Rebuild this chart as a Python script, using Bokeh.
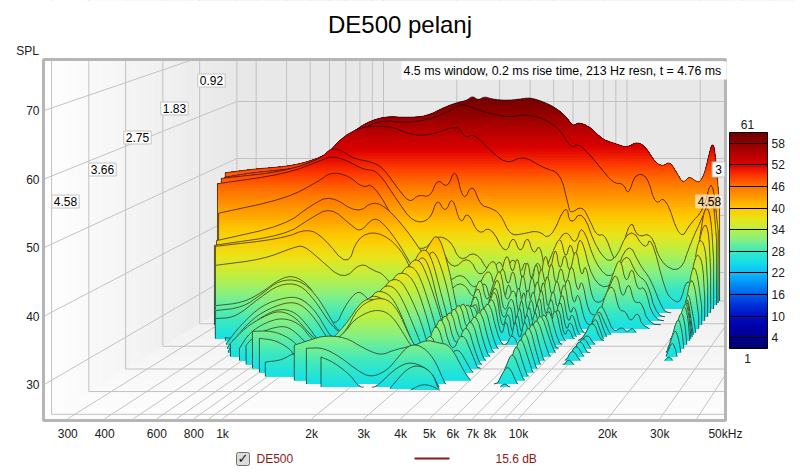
import math
import numpy as np
from bokeh.plotting import figure
from bokeh.models import (Range1d, FixedTicker, Label, ColorBar, LinearColorMapper, ColumnDataSource)
from bokeh.embed import file_html
from bokeh.resources import INLINE

TITLE = "DE500 pelanj"
INFO = "4.5 ms window, 0.2 ms rise time,  213 Hz resn, t = 4.76 ms"
X_TICKS = [300, 400, 600, 800, 1000, 2000, 3000, 4000, 5000, 6000, 7000, 8000, 10000, 20000, 30000, 50000]
X_LABELS = ["300", "400", "600", "800", "1k", "2k", "3k", "4k", "5k", "6k", "7k", "8k", "10k", "20k", "30k", "50kHz"]
Y_TICKS = [30, 40, 50, 60, 70]
GRID_FREQS = [300, 400, 500, 600, 700, 800, 900, 1000, 2000, 3000, 4000, 5000, 6000, 7000, 8000, 9000, 10000,
              20000, 30000, 40000, 50000]
TIME_TICKS = [0.92, 1.83, 2.75, 3.66, 4.58]
BAR_TICKS = [4, 10, 16, 22, 28, 34, 40, 46, 52, 58]
SPL_MIN, SPL_MAX = 1, 61
FLOOR_DB = 25
LAST_T = 4.76

# time (ms), then (frequency kHz, SPL dB) pairs read from each slice
S_000 = (0.0, [(.224,47.5),(.3,48.2),(.4,48.6),(.5,49.5),(.6,51),(.8,55.8),(1,57.4),(1.25,57.2),(1.5,57.4),(1.8,59.1),(2,59.8),(2.2,60.2),(2.32,61),(2.45,60.2),(2.6,60.9),(2.8,60.4),(3.2,60.2),(3.6,60.4),(4,60.7),(4.5,60),(5,59.1),(5.6,57.5),(6,55.6),(6.3,56.4),(7,55.6),(7.5,54.4),(8,53.3),(9,52.6),(10,51.9),(11,53),(12,51.9),(13,49.4),(14,48.6),(15,49.5),(16,47.5),(17,45.6),(18,46.9),(19,46.1),(20,45.8),(21,47.9),(22,51.8),(22.5,52.6),(23,51.4),(24,41.8)])
S_008 = (0.08, [(.23,47),(.3,47.8),(.4,48.3),(.5,49),(.6,50.3),(.8,55),(1,57),(1.25,56.5),(1.5,56.9),(1.8,58),(1.98,59),(2.16,59.9),(2.49,58.7),(3.3,57.4),(4.1,58.1),(5.3,56),(6,52),(6.44,52.9),(7.2,50.8),(7.9,48.7),(8.96,45.9),(9.84,45.9),(10.3,43.8),(11,47.6),(12.3,47.3),(13.3,42),(14.6,43.8),(16.8,35.9),(18.5,38.9),(20.9,41.2),(22.7,47.3),(24,37.7)])
S_016 = (0.16, [(.23,46.5),(.42,47.8),(.58,50),(.77,55.7),(1.09,56.4),(1.39,54.5),(1.68,54.7),(2.11,56.4),(2.27,54),(2.45,54.9),(2.95,51.4),(3.37,49.6),(3.91,51),(4.71,48.9),(5.54,48),(5.97,42.3),(6.08,40.9),(6.8,42.3),(7.3,39.7),(7.8,37),(8.4,37.4),(9.1,33.2),(9.55,32.2),(10.7,40.2),(11.4,36.7),(13,37.6),(14.2,32.2),(17.1,30.6),(18.8,35.8),(21.2,40.6),(23.1,44.9),(24,36.2)])
S_032 = (0.32, [(.244,47.6),(.44,48.8),(.615,51),(.66,52.4),(.69,52.7),(.74,52.6),(.84,51),(.98,50.5),(1.1,49.5),(1.3,45.1),(1.42,43.4),(1.53,44.8),(1.71,44.3),(1.83,47.6),(2.01,45.8),(2.16,49.6),(2.33,43.4),(2.53,46.8),(2.73,42.9),(2.99,42.5),(3.29,41.5),(3.6,37.7),(4.07,38),(4.68,38.6),(5.24,36.9),(6.08,43.4),(6.3,39.4),(7.06,42.2),(8.1,35.1),(9.4,32.5),(11,39.4),(12.7,35.1),(13.4,37.7),(15.3,28),(16.4,26.5),(17.6,26),(18.6,30),(19.7,29),(21.2,38),(22.2,43),(23.4,41.2),(24,33.4)])
S_048 = (0.48, [(.25,47.2),(.47,48.9),(.65,51.2),(.72,52),(.83,51.2),(.97,49.6),(1.1,49.5),(1.32,44.3),(1.53,40.5),(1.79,40.9),(1.91,44.8),(2.06,42.1),(2.2,45.2),(2.37,40),(2.53,42.6),(2.8,38.3),(3.13,40),(3.6,34.8),(3.85,38.5),(4.13,35),(4.4,38.5),(4.66,34.8),(4.95,37),(5.2,31.4),(5.7,36.5),(6.3,39.4),(6.87,36.5),(7.3,40.5),(8.3,33.1),(9.7,30.5),(11.2,37.4),(12.5,33.1),(13.7,31),(15.4,25.5),(16.3,25),(17.3,25),(18.4,24.5),(19.5,26),(21,34),(22.2,40),(23.5,40),(24,32.2)])
S_064 = (0.64, [(.268,42.7),(.5,45.2),(.68,48.3),(.75,49.7),(.88,49.2),(1.01,47),(1.11,47.8),(1.39,40.6),(1.56,37.2),(1.79,36.4),(1.97,38.9),(2.26,38.1),(2.47,34.3),(2.84,36.4),(3.26,32.1),(3.55,35),(3.74,32),(4,35.5),(4.3,32.1),(4.5,35),(4.7,30.4),(5,35),(5.3,32),(5.77,36),(6.2,39),(6.5,34.6),(6.8,38),(7.1,34.6),(7.45,39.5),(8.3,31.2),(9.8,29.5),(11.3,36.4),(12.5,32.1),(13.8,31),(15,25),(18.5,24),(19.8,25),(21,32),(22,38.5),(23.5,37.2),(24,30.4)])
S_080 = (0.8, [(.279,38.6),(.52,41.2),(.66,44.6),(.79,46.3),(1.01,43.2),(1.17,45.4),(1.36,43.7),(1.64,39.5),(1.88,35.6),(2.15,37.8),(2.4,33.5),(2.78,36.1),(3.1,32),(3.5,36),(3.7,32),(3.95,37),(4.15,32.5),(4.35,36.5),(4.55,31),(4.75,36),(4.95,31),(5.15,35.5),(5.35,31.5),(5.6,37),(5.85,33),(6.15,38),(6.4,33),(6.7,37),(7,32.5),(7.4,38),(7.8,32),(8.1,35),(8.6,28.5),(9.2,28),(9.7,29),(10.4,33),(11.1,36),(11.7,31),(12.4,34.5),(13,30),(13.9,31),(15,25),(19.5,24),(20.5,27),(21.9,36.5),(23.5,35.5),(24,29)])
S_096 = (0.96, [(.29,38.4),(.55,40.1),(.69,42.9),(.83,44.8),(1,41.8),(1.09,40.6),(1.22,43.1),(1.34,42.2),(1.56,38.4),(1.79,33.8),(2.11,35.5),(2.4,32.1),(2.74,33.8),(3.09,30.5),(3.5,35),(3.7,30.5),(3.95,35.5),(4.15,31),(4.35,35),(4.55,29.5),(4.75,34.5),(4.95,29),(5.15,34),(5.35,30),(5.6,35.5),(5.85,31),(6.15,36.5),(6.4,31),(6.7,35.5),(7,31),(7.4,36),(7.8,30),(8.1,33),(8.6,27),(9.2,26.5),(9.7,27.5),(10.4,31.5),(11.1,34),(11.7,29),(12.4,32.5),(13,28.5),(13.9,29),(14.8,25),(20,24),(20.8,26),(21.8,34.5),(22.9,34.5),(24,28)])
S_112 = (1.12, [(.31,38.8),(.57,40.1),(.71,41.8),(.82,40.3),(1.02,35.3),(1.11,40.3),(1.33,41.4),(1.64,38.6),(1.88,33.1),(2.2,34.8),(2.5,31.1),(2.86,33.1),(3.2,29.5),(3.5,33.5),(3.7,29),(3.95,33.5),(4.15,29),(4.35,33.5),(4.55,28),(4.75,33),(4.95,27.5),(5.15,32.5),(5.35,28.5),(5.6,34),(5.85,29.5),(6.15,35),(6.4,29.5),(6.7,34),(7,29.5),(7.4,34.5),(7.8,28.5),(8.1,31.5),(8.6,26),(9.2,25.5),(9.7,26.5),(10.4,31),(11.1,32.5),(11.7,28),(12.4,28),(13,26),(13.9,28),(14.5,25),(20.3,24),(21,26),(22,33),(23,33),(24,27)])
S_128 = (1.28, [(.328,36.2),(.5,37.2),(.66,39.2),(.72,39.5),(.82,37.5),(1.03,33.7),(1.2,36.7),(1.35,35.3),(1.47,34.8),(1.67,31.5),(2,36),(2.2,39.5),(2.39,41.7),(2.61,36.7),(2.8,30.3),(2.98,24.5),(3.2,29),(3.5,35),(3.7,29.5),(3.95,33.5),(4.19,36),(4.4,29.5),(4.75,33),(4.95,27),(5.15,33),(5.35,27.5),(5.6,33),(5.85,28),(6.15,35),(6.4,28),(6.7,33),(7,28),(7.4,34.5),(7.8,27.5),(8.1,30),(8.6,25),(9.3,25),(10.2,30),(10.8,28),(11.5,25),(12.4,26),(13,25),(13.7,26),(14.3,24),(20.5,24),(21.3,26),(22.3,32.5),(23.4,28),(24,25)])
S_136 = (1.36, [(.337,29.8),(.43,30.3),(.51,32),(.6,34.3),(.68,34.8),(.78,33.1),(.875,29.5),(.98,26.2),(1.07,29.8),(1.19,32.3),(1.28,31.5),(1.44,28.7),(1.9,27),(2.2,37),(2.35,39.5),(2.6,34.5),(2.8,28),(3,24),(3.2,28),(3.5,34),(3.7,28),(3.95,32),(4.2,35),(4.4,28),(4.75,32),(4.95,26),(5.15,32),(5.35,26),(5.6,32),(5.85,27),(6.15,34),(6.4,27),(6.7,32),(7,27),(7.4,33),(7.8,26.5),(8.1,29),(8.6,24.5),(9.3,24.5),(10.2,29.5),(10.8,27),(11.5,24.5),(12.5,25),(14,24),(20.5,24),(21.5,26.5),(22.5,32),(23.4,27),(24,24)])
S_144 = (1.44, [(.347,29.3),(.44,29.8),(.526,32.1),(.61,34.3),(.73,34.4),(.84,32.1),(.94,28.8),(1.04,25.5),(1.2,26),(1.6,27),(1.9,34),(2.08,38.7),(2.24,39.6),(2.38,37.6),(2.55,32.6),(2.72,28.2),(2.87,23.9),(3.2,27),(3.5,33),(3.7,27),(3.95,31),(4.2,34),(4.45,27),(4.75,31),(4.95,25.5),(5.15,31),(5.35,25.5),(5.6,31),(5.85,26),(6.15,33),(6.4,26),(6.7,31),(7,26.5),(7.4,32),(7.8,25.5),(8.1,28),(8.6,24),(9.3,24),(10.2,29.8),(10.8,26.5),(11.4,24),(20.5,24),(21.5,26.5),(22.8,31.8),(23.6,27),(24,24)])
S_152 = (1.52, [(.356,28.3),(.425,28.5),(.526,31.7),(.63,34),(.75,34),(.86,31.3),(.98,27.5),(1.08,25.8),(1.5,25),(1.9,30),(2.1,37.5),(2.25,38.7),(2.4,36),(2.55,31),(2.72,27),(2.87,23.5),(3.25,26),(3.55,32),(3.75,26.5),(3.95,30),(4.25,33.8),(4.5,26),(4.75,30),(4.95,25),(5.15,30),(5.35,25),(5.6,30),(5.85,25.5),(6.15,32),(6.4,25.5),(6.7,30),(7,26),(7.4,31),(7.8,25),(8.1,27),(8.6,24),(9.4,24),(10.2,29),(10.8,26),(11.2,24),(20.5,24),(21.5,27.5),(22.8,31.5),(23.6,28.5),(24,24)])
S_160 = (1.6, [(.4,25.5),(.45,25.2),(.494,28.6),(.59,30.4),(.72,32.4),(.84,31.1),(.94,27.8),(1.03,25),(1.5,24.5),(1.7,26),(1.9,33),(2.01,37.7),(2.19,38.5),(2.33,36.5),(2.55,31.6),(2.74,27.1),(2.91,24.2),(3.2,26),(3.5,32),(3.85,27),(4.2,33.5),(4.55,25),(4.75,29),(4.95,24.5),(5.15,29),(5.35,24.5),(5.6,29),(5.85,25),(6.15,31),(6.4,25),(6.7,29),(7,26),(7.3,31.2),(7.8,25),(8.4,25),(9.3,25),(10.2,28.7),(11,24.5),(12.8,24),(20.5,24),(21.5,27),(22.8,31.2),(23.6,29),(24,25)])
S_176 = (1.76, [(.426,25.2),(.48,28.1),(.58,31.4),(.71,32.7),(.81,32.7),(.93,30.5),(1.04,26.8),(1.11,25.5),(1.4,24.5),(1.55,25),(1.8,32),(1.99,37.4),(2.17,37.9),(2.33,35.9),(2.54,31),(2.73,26.1),(2.9,24),(3.2,26),(3.5,33),(3.85,27),(4.2,33.2),(4.6,26),(4.9,24.5),(5.2,27),(5.6,24),(6.2,26.5),(6.8,25.5),(7.1,32),(7.8,25),(8.5,24),(9.3,24.5),(10,27),(10.8,24.5),(12.8,24),(20.5,24),(21.5,26.5),(22.8,30.8),(23.6,28.5),(24,25)])
S_192 = (1.92, [(.453,25.2),(.53,28.7),(.61,30.9),(.75,32.5),(.855,32.3),(.97,29.9),(1.08,26.6),(1.14,25.5),(1.5,25),(1.75,32),(1.92,36.9),(2.13,37.4),(2.32,35.6),(2.54,30.7),(2.72,25.8),(2.89,23.9),(3.2,26),(3.5,34),(3.85,27),(4.2,33),(4.6,26),(4.9,24),(6.2,24),(6.6,26),(7.1,32),(7.8,25),(8.5,24),(9.4,24.5),(10,27.2),(10.8,24.5),(12,24),(20.5,24),(21.5,26.5),(22.8,30.3),(23.6,28),(24,25)])
S_208 = (2.08, [(.48,25.2),(.547,28.6),(.645,30.8),(.747,32.1),(.86,31.5),(.97,28.9),(1.06,26.5),(1.14,25.3),(1.5,25.5),(1.7,31),(1.87,36.3),(2.09,37),(2.28,34.7),(2.53,30.2),(2.71,25.8),(2.88,24),(3.2,26),(3.5,34.5),(3.85,27),(4.2,33),(4.6,26),(4.9,24),(6.3,24.5),(6.7,27.5),(7.1,32),(7.8,26.5),(8.3,24),(9.4,24.5),(10,27.4),(10.8,24.5),(12,24),(20.5,24),(21.5,25.5),(22.8,29),(23.6,27),(24,25)])
S_224 = (2.24, [(.515,27.1),(.586,29.6),(.678,31.3),(.784,32.4),(.9,31.3),(1.01,28.7),(1.11,27.2),(1.2,26),(1.4,26.5),(1.6,30),(1.87,36.1),(2.07,36.4),(2.25,34.3),(2.52,29.2),(2.7,26),(2.87,24.5),(3.2,26),(3.5,34.5),(3.85,27),(4.2,32.8),(4.6,26),(4.9,24),(6.4,24.5),(6.7,27),(7.1,32),(7.8,26),(8.2,24),(9.4,24.5),(10,27.2),(10.8,24.5),(12,24),(21,24),(21.7,25),(22.8,27.5),(23.6,26),(24,24)])
S_240 = (2.4, [(.585,26.9),(.637,29.4),(.73,31),(.84,31.8),(.975,30.9),(1.09,28.2),(1.22,26.9),(1.5,27.5),(1.65,31.5),(1.83,36.1),(2.07,35.8),(2.25,33.7),(2.51,28.7),(2.69,25.8),(2.86,25),(3.2,26),(3.5,34.5),(3.85,27),(4.2,32.5),(4.6,26),(4.9,24),(6.4,24.5),(6.7,27),(7.1,32),(7.7,26),(8,24),(9.4,24.5),(10,27),(10.8,24.5),(12,24),(21.5,24),(22.8,26),(24,24)])
S_256 = (2.56, [(.65,28),(.7,29.6),(.8,30.7),(.91,31.1),(1,29.9),(1.1,28),(1.22,27.2),(1.39,28),(1.57,31.1),(1.83,35.9),(2.06,35.6),(2.27,33.2),(2.51,28.8),(2.69,26.1),(2.85,25.1),(3.2,26.5),(3.5,34.5),(3.85,27),(4.2,32),(4.6,26),(4.9,24),(6.4,24.5),(6.7,27),(7.1,32),(7.7,26),(8,24),(9.5,24.5),(10,26),(10.6,24.5)])
S_272 = (2.72, [(.72,30.8),(.85,30.9),(.98,29.8),(1.07,28.3),(1.13,27.5),(1.33,28.6),(1.57,31.7),(1.83,36),(2.06,35.7),(2.26,33.8),(2.5,29.8),(2.72,27),(2.96,25.9),(3.2,27),(3.5,34.4),(3.85,27),(4.2,31),(4.6,27),(4.9,24),(6.4,24.5),(6.7,27),(7.1,31.5),(7.6,27),(8,24)])
S_288 = (2.88, [(.8,30.3),(.914,30),(1.03,28.7),(1.07,27.6),(1.13,26.5),(1.33,27.6),(1.64,31.2),(1.82,35),(2.07,36.5),(2.33,36.5),(2.56,34.6),(2.78,31),(2.95,28.9),(3.2,27),(3.5,33.7),(3.85,27),(4.2,29),(4.6,26),(4.9,24),(6.4,24.5),(6.7,27),(7.1,31),(7.6,27),(8,24)])
S_304 = (3.04, [(.88,27.2),(1.01,27.5),(1.11,28.6),(1.25,28.5),(1.45,29.5),(1.71,31.8),(1.83,33.7),(2.11,35.2),(2.35,35.2),(2.55,34.1),(2.77,31.7),(2.94,29.8),(3.19,28.2),(3.5,32.5),(3.85,25),(4.2,27),(4.6,24),(6.4,24.5),(6.7,26.5),(7.1,30.5),(7.6,26),(8,24)])
S_320 = (3.2, [(1.17,30.4),(1.33,31.2),(1.51,31.9),(1.79,31.6),(2.06,30),(2.38,28.8),(2.65,29.6),(2.88,30),(3.18,30.4),(3.48,31.2),(3.82,30.8),(4.25,30.4),(4.73,26.5),(5,25),(5.2,24),(6.4,24.5),(6.7,27),(7.1,29.6),(7.6,26),(8,24)])
S_336 = (3.36, [(1.35,30.5),(1.55,30.6),(1.79,29.1),(2.05,27.1),(2.29,26),(2.62,27.1),(2.85,29),(3.12,31),(3.44,31),(3.83,29.1),(4.16,25.6),(4.3,24.3),(6.4,24.5),(6.7,26.5),(7.1,28),(7.6,25),(8,24)])
S_348 = (3.48, [(1.57,29.6),(1.74,28.8),(2,26.8),(2.11,25.3),(2.3,24.5),(2.51,25.3),(2.84,27.6),(3.18,28.8),(3.53,28.4),(3.9,27.1),(4.1,25),(4.3,24),(6.6,24.5),(7.1,25.8),(7.5,24)])
S_355 = (3.55, [(2.81,25.1),(3.23,28.2),(3.59,28.6),(3.96,27.4),(4.13,25.3),(4.3,24)])
S_360 = (3.6, [(3.35,25),(3.72,26),(4.17,25.3),(4.3,24.5)])

SLICES = [S_000, S_008, S_016, S_032, S_048, S_064, S_080, S_096, S_112, S_128, S_136, S_144, S_152, S_160,
          S_176, S_192, S_208, S_224, S_240, S_256, S_272, S_288, S_304, S_320, S_336, S_348, S_355, S_360]

W, H = 795, 470

def X2F(X):
    return 1000 * 10 ** ((np.asarray(X, dtype=float) - 222) / 296)

def Y2D(Y):
    return (589.5 - np.asarray(Y, dtype=float)) / 6.85

def project(freq_k, db, t):
    """Map frequency (kHz), SPL and time to the front-plane frequency (Hz) and dB of the plot axes."""
    L = np.log10(np.asarray(freq_k, dtype=float))
    db = np.asarray(db, dtype=float)
    u = np.asarray(t, dtype=float) / LAST_T
    xpx = (383 + 243.5 * L) * (1 - u) + (222 + 296 * L) * u
    ypx = (443 - 5.7 * db) * (1 - u) + (589.5 - 6.85 * db) * u
    return X2F(xpx), Y2D(ypx)

ANCHORS = [(1, "#00006c"), (4, "#000090"), (7, "#0000a8"), (10, "#0010c4"), (13, "#0030d8"), (16, "#0060ec"),
           (19, "#0090f8"), (22, "#10bcf8"), (25, "#14e0e8"), (28, "#3ce8c0"), (31, "#80f088"), (34, "#b8f048"),
           (37, "#eae41a"), (40, "#ffc800"), (43, "#ff9c00"), (46, "#ff7400"), (49, "#ff3800"), (52, "#dc0000"),
           (55, "#b80000"), (58, "#900000"), (61, "#700000")]
_ax = [a[0] for a in ANCHORS]
_rgb = np.array([[int(a[1][i:i + 2], 16) for i in (1, 3, 5)] for a in ANCHORS], dtype=float)

def color_at(db):
    return "#%02x%02x%02x" % tuple(int(round(np.interp(db, _ax, _rgb[:, k]))) for k in range(3))

PALETTE = [color_at(SPL_MIN + (SPL_MAX - SPL_MIN) * i / 255) for i in range(256)]

def corner_cut(a, b, n=2):
    for _ in range(n):
        a2 = [a[0]]; b2 = [b[0]]
        for i in range(len(a) - 1):
            a2 += [.75 * a[i] + .25 * a[i + 1], .25 * a[i] + .75 * a[i + 1]]
            b2 += [.75 * b[i] + .25 * b[i + 1], .25 * b[i] + .75 * b[i + 1]]
        a2.append(a[-1]); b2.append(b[-1])
        a, b = np.array(a2), np.array(b2)
    return a, b

p = figure(width=W, height=H, output_backend="svg", toolbar_location=None, x_axis_type="log",
           x_range=Range1d(float(X2F(0)), float(X2F(W))), y_range=Range1d(float(Y2D(H)), float(Y2D(0))),
           min_border=0, min_border_left=0, min_border_right=0, min_border_top=0, min_border_bottom=0,
           background_fill_color="white", border_fill_color="white", outline_line_color=None)
p.grid.visible = False

for ax in (p.xaxis[0], p.yaxis[0]):
    ax.axis_line_color = None
    ax.major_tick_line_color = None
    ax.minor_tick_line_color = None
    ax.major_label_text_font = "Liberation Sans"
    ax.major_label_text_font_size = "12px"
    ax.major_label_text_color = "#202020"
p.xaxis[0].fixed_location = float(Y2D(413))
p.yaxis[0].fixed_location = float(X2F(49))
p.xaxis[0].ticker = FixedTicker(ticks=X_TICKS)
p.xaxis[0].major_label_overrides = dict(zip(X_TICKS, X_LABELS))
p.xaxis[0].major_label_standoff = 7
p.yaxis[0].ticker = FixedTicker(ticks=Y_TICKS)
p.yaxis[0].major_label_overrides = {v: str(v) for v in Y_TICKS}
p.yaxis[0].major_label_standoff = 4

LOW, HIGH, TOP = .25, 200, 100
ts = np.linspace(0, LAST_T, 31)
wx, wy, wc = [], [], []
for i in range(30):
    a, b = ts[i], ts[i + 1]
    fx, fy = project([LOW, LOW, LOW, LOW], [FLOOR_DB, TOP, TOP, FLOOR_DB], [a, a, b, b])
    g = int(round(232 + (255 - 232) * (a / LAST_T)))
    wx.append(fx); wy.append(fy); wc.append("#%02x%02x%02x" % (g, g, g))
    fx, fy = project([LOW, HIGH, HIGH, LOW], [FLOOR_DB] * 4, [a, a, b, b])
    g = int(round(236 + (253 - 236) * (a / LAST_T) ** .7))
    wx.append(fx); wy.append(fy); wc.append("#%02x%02x%02x" % (g, g, g))
fx, fy = project([LOW, HIGH, HIGH, LOW], [FLOOR_DB, FLOOR_DB, TOP, TOP], [0, 0, 0, 0])
wx.append(fx); wy.append(fy); wc.append("#e8e8e8")
p.patches(xs=[list(v) for v in wx], ys=[list(v) for v in wy], fill_color=wc, line_color=wc, line_width=.5)

gx, gy = [], []
def grid_line(f, d, t):
    x, y = project(f, d, t)
    gx.append(list(x)); gy.append(list(y))
for d in Y_TICKS:
    grid_line([HIGH, LOW, LOW], [d, d, d], [0, 0, LAST_T])
for f in GRID_FREQS:
    grid_line([f / 1000] * 3, [TOP, FLOOR_DB, FLOOR_DB], [0, 0, LAST_T])
for t in TIME_TICKS:
    grid_line([LOW, LOW, HIGH], [TOP, FLOOR_DB, FLOOR_DB], [t, t, t])
grid_line([LOW, LOW, HIGH], [TOP, FLOOR_DB, FLOOR_DB], [0, 0, 0])
p.multi_line(xs=gx, ys=gy, line_color="#c2c2c2", line_width=1)

for t, pairs in SLICES:
    pairs = sorted(pairs)
    L = np.log10([q[0] for q in pairs])
    db = np.array([q[1] for q in pairs], dtype=float)
    L, db = corner_cut(L, db, 2)
    f = 10 ** L
    db = np.maximum(db, FLOOR_DB)
    bx, by = project(f, np.full_like(db, FLOOR_DB), t)
    xs, ys, cs = [], [], []
    keep = db > FLOOR_DB
    keep = keep | np.r_[keep[1:], False] | np.r_[False, keep[:-1]]
    for z in np.arange(math.ceil(db.max() * 2) / 2, FLOOR_DB, -.5):
        _, yz = project(f[keep], np.minimum(db[keep], z), t)
        xs.append(list(np.r_[bx[keep], bx[keep][::-1]]))
        ys.append(list(np.r_[yz, by[keep][::-1]]))
        cs.append(color_at(z - .25))
    p.patches(xs="xs", ys="ys", fill_color="cs", line_color=None,
              source=ColumnDataSource(dict(xs=xs, ys=ys, cs=cs)))
    lx, ly = project(f, db, t)
    lx2, ly2 = lx.copy(), ly.copy()
    lx2[~keep] = np.nan
    ly2[~keep] = np.nan
    if db[0] > FLOOR_DB:
        lx2 = np.r_[bx[0], lx2]; ly2 = np.r_[by[0], ly2]
    if db[-1] > FLOOR_DB:
        lx2 = np.r_[lx2, bx[-1]]; ly2 = np.r_[ly2, by[-1]]
    p.line(lx2, ly2, line_color="#101010", line_width=.8, line_alpha=.8)

def rect(l, t, r, b, **kw):
    return p.quad(left=float(X2F(l)), right=float(X2F(r)), top=float(Y2D(t)), bottom=float(Y2D(b)), **kw)

for l_, t_, r_, b_ in [(0, 0, 44, H), (725, 0, W, H), (0, 0, W, 60), (0, 420, W, H)]:
    rect(l_, t_, r_, b_, fill_color="#ffffff", line_color="#ffffff", line_width=0)
rect(43, 59, 725, 420, fill_color=None, line_color="#b6b6b6", line_width=3)
rect(236, 452, 249, 465, fill_color="#dcdcdc", line_color="#707070", line_width=1, border_radius=2)
rect(414, 457, 449, 459, fill_color="#8b1a1a", line_color=None)

def label(text, X, Y, align="center", base="middle", size="12px", color="#000000", font="Liberation Sans", **kw):
    l = Label(x=X, y=H - Y, x_units="screen", y_units="screen", text=text, text_align=align,
              text_baseline=base, text_font=font, text_font_size=size, text_color=color, **kw)
    p.add_layout(l)
    return l

label(TITLE, 399.5, 24, size="24px")
box = dict(background_fill_color="#ffffff", border_line_color="#c4c4c4")
for txt, X, Y in zip(["0.92", "1.83", "2.75", "3.66", "4.58"], [211, 174, 137, 102, 65], [80, 108, 137, 169, 201]):
    label(txt, X, Y, padding=2, **box)
label("3", 718, 169, padding=3, **box)
label("4.58", 709, 201, padding=2, background_fill_color="#ffffff", background_fill_alpha=.6,
      border_line_color="#f0d8b0")
label(INFO, 401, 70, align="left", size="12.4px", padding=2, background_fill_color="#ffffff", border_line_color=None)
label("SPL", 27, 50, color="#202020")
label(str(SPL_MAX), 747, 124, color="#202020")
label(str(SPL_MIN), 747, 358, color="#202020")
label("\u2713", 242.5, 458, size="13px", font="DejaVu Sans", text_font_style="bold", color="#101010")
label("DE500", 256, 458, align="left", color="#8b1a1a")
label("15.6 dB", 495, 458, align="left", color="#8b1a1a")

mapper = LinearColorMapper(palette=PALETTE, low=SPL_MIN, high=SPL_MAX)
cb = ColorBar(color_mapper=mapper, ticker=FixedTicker(ticks=BAR_TICKS), location=(729, H - 348),
              width=38, height=216, padding=0, margin=0, major_tick_in=38, major_tick_out=0,
              major_tick_line_color="#000000", minor_tick_line_color=None, bar_line_color="#000000",
              major_label_text_font="Liberation Sans", major_label_text_font_size="12px",
              major_label_text_color="#202020", label_standoff=4, background_fill_color=None, border_line_color=None)
p.add_layout(cb, "center")

open("out.html", "w").write(file_html(p, INLINE))
